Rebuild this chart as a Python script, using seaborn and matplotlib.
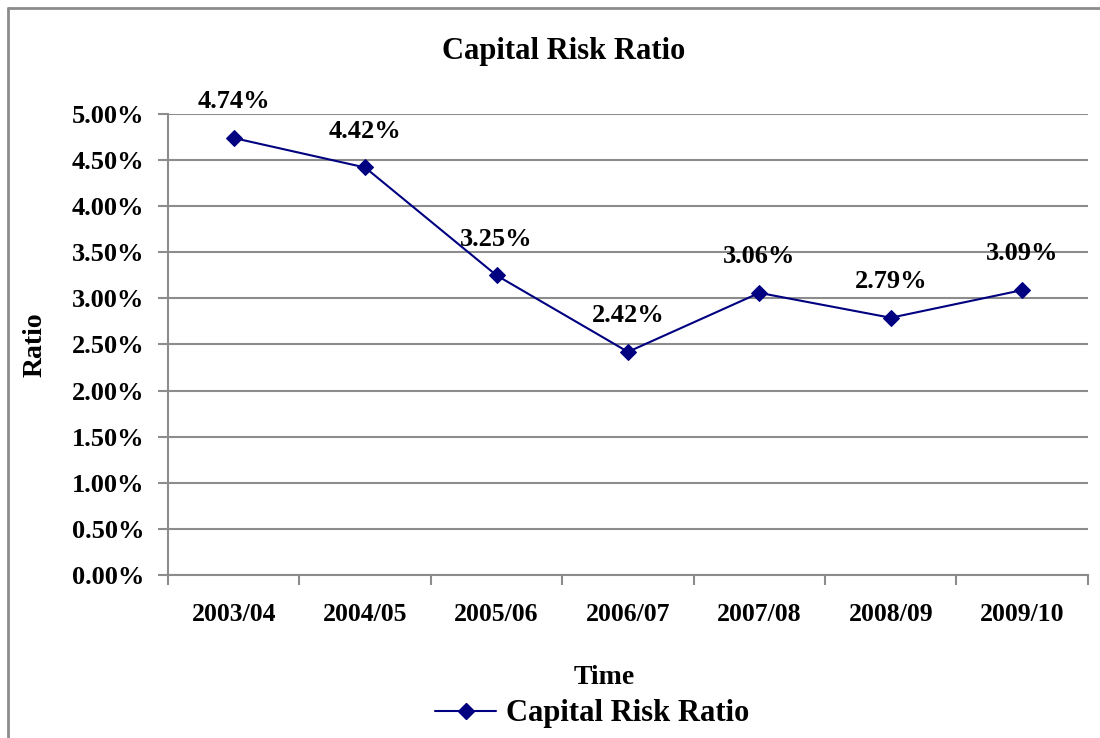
import matplotlib
matplotlib.use("Agg")
import matplotlib.pyplot as plt
import matplotlib.ticker as mticker
from matplotlib.lines import Line2D
import seaborn as sns

# values
periods = ["2003/04", "2004/05", "2005/06", "2006/07", "2007/08", "2008/09", "2009/10"]
ratios = [4.74, 4.42, 3.25, 2.42, 3.06, 2.79, 3.09]
y_ticks = [0.0, 0.5, 1.0, 1.5, 2.0, 2.5, 3.0, 3.5, 4.0, 4.5, 5.0]

sns.set_style("white")
plt.rcParams['font.family'] = ['Liberation Serif', 'DejaVu Serif']
plt.rcParams['font.weight'] = 'bold'
plt.rcParams['text.color'] = 'black'
plt.rcParams['axes.labelcolor'] = 'black'
plt.rcParams['xtick.labelcolor'] = 'black'
plt.rcParams['ytick.labelcolor'] = 'black'

navy = '#000080'
grey = '#8c8c8c'

fig = plt.figure(figsize=(11, 7.38), dpi=100)
ax = fig.add_axes([0.1527, 0.2209, 0.989 - 0.1527, 0.8455 - 0.2209])

sns.lineplot(x=periods, y=ratios, ax=ax, sort=False, color=navy,
             marker='D', markersize=8, markeredgecolor=navy, linewidth=1.5,
             label='Capital Risk Ratio', legend=False)

# data labels
for i, v in enumerate(ratios):
    ax.annotate(f"{v:.2f}%", (i, v), xytext=(0, 26), textcoords='offset points',
                ha='center', va='center', fontsize=19, fontweight='bold')

ax.set_xlim(-0.5, 6.5)
ax.set_ylim(0, 5)
ax.set_yticks(y_ticks)
ax.yaxis.set_major_formatter(mticker.FuncFormatter(lambda v, p: f"{v:.2f}%"))
ax.xaxis.set_minor_locator(mticker.FixedLocator([i - 0.5 for i in range(len(periods) + 1)]))
ax.tick_params(axis='x', which='major', length=0, pad=20, labelsize=18.5)
ax.tick_params(axis='x', which='minor', length=7, width=1.5, color=grey, direction='out', bottom=True)
ax.tick_params(axis='y', length=7, width=1.5, color=grey, direction='out', left=True, labelsize=19, pad=10)

ax.grid(axis='y', color=grey, linewidth=1.5)
ax.set_axisbelow(True)
for side in ['top', 'right']:
    ax.spines[side].set_visible(False)
for side in ['left', 'bottom']:
    ax.spines[side].set_color(grey)
    ax.spines[side].set_linewidth(1.5)

ax.set_xlabel("Time", fontsize=20, fontweight='bold')
ax.xaxis.set_label_coords((604 - 168) / 920, -(678 - 575) / 461)
ax.xaxis.label.set_va('center')
ax.set_ylabel("Ratio", fontsize=20, fontweight='bold')
ax.yaxis.set_label_coords((35 - 168) / 920, (575 - 345) / 461)
ax.yaxis.label.set_va('center')

fig.text(564 / 1100, 1 - 52 / 738, "Capital Risk Ratio", ha='center', va='center',
         fontsize=22, fontweight='bold')

handle = Line2D([], [], color=navy, marker='D', markersize=8, linewidth=1.5)
fig.legend([handle], ["Capital Risk Ratio"], loc='center', bbox_to_anchor=(592 / 1100, 1 - 714 / 738),
           frameon=False, fontsize=22, handlelength=2.0, handletextpad=0.3)

# outer chart frame (only top and left visible in the crop)
fig.add_artist(Line2D([8 / 1100, 8 / 1100], [0, 1 - 8 / 738], transform=fig.transFigure, color=grey, linewidth=2))
fig.add_artist(Line2D([8 / 1100, 1], [1 - 8 / 738, 1 - 8 / 738], transform=fig.transFigure, color=grey, linewidth=2))

fig.savefig("out.png", dpi=100)
